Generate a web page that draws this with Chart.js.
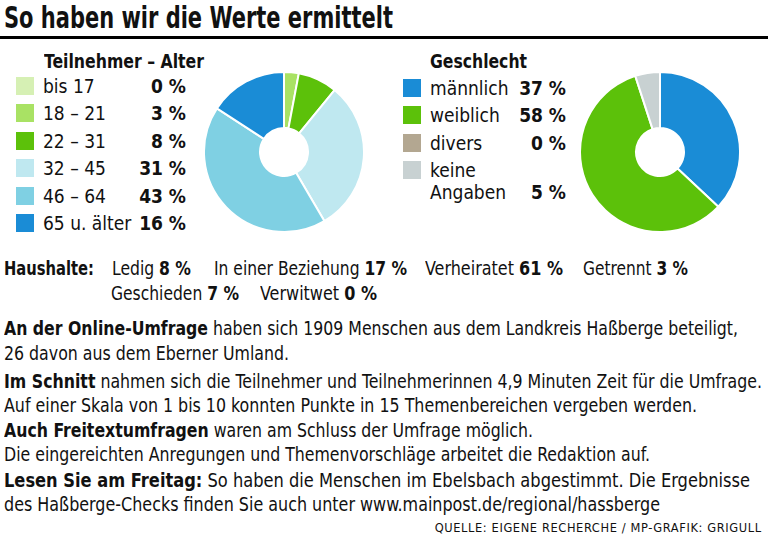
<!DOCTYPE html>
<html>
<head>
<meta charset="utf-8">
<script src="https://cdn.jsdelivr.net/npm/chart.js@4"></script>
<style>
  body { margin: 0; width: 768px; height: 541px; background: #fff; position: relative; overflow: hidden;
         font-family: "DejaVu Sans Condensed", "DejaVu Sans", sans-serif; font-stretch: condensed; color: #111; }
  .abs { position: absolute; white-space: nowrap; transform-origin: left center; }
  .title { left: 4px; top: 3px; font-size: 30px; line-height: 30px; font-weight: bold; }
  .rule { position: absolute; left: 0; top: 36px; width: 768px; height: 3px; background: #000; }
  .head { font-size: 19px; font-weight: bold; }
  .row { position: absolute; font-size: 19px; height: 22px; line-height: 22px; }
  .sw { position: absolute; width: 18px; height: 18px; }
  .pct { position: absolute; font-weight: bold; text-align: right; white-space: nowrap; }
  .txt { font-size: 19px; line-height: 24px; }
  .src { font-size: 12.5px; letter-spacing: 0.6px; transform-origin: right center; }
</style>
</head>
<body>
<div class="abs title" data-w="389">So haben wir die Werte ermittelt</div>
<div class="rule"></div>

<div class="abs head" style="left:44px; top:50px;" data-w="160">Teilnehmer – Alter</div>
<div id="ageLegend"></div>
<div style="position:absolute; left:203px; top:71px; width:162px; height:162px;"><canvas id="ageChart"></canvas></div>

<div class="abs head" style="left:430px; top:50px;" data-w="97">Geschlecht</div>
<div id="genderLegend"></div>
<div style="position:absolute; left:579px; top:71px; width:162px; height:162px;"><canvas id="genderChart"></canvas></div>

<div id="haushalte"></div>

<div class="abs txt" style="left:4px; top:316px;" data-w="734"><b>An der Online-Umfrage</b> haben sich 1909 Menschen aus dem Landkreis Haßberge beteiligt,</div>
<div class="abs txt" style="left:4px; top:341px;" data-w="285">26 davon aus dem Eberner Umland.</div>
<div class="abs txt" style="left:4px; top:369px;" data-w="758"><b>Im Schnitt</b> nahmen sich die Teilnehmer und Teilnehmerinnen 4,9 Minuten Zeit für die Umfrage.</div>
<div class="abs txt" style="left:4px; top:393px;" data-w="693">Auf einer Skala von 1 bis 10 konnten Punkte in 15 Themenbereichen vergeben werden.</div>
<div class="abs txt" style="left:4px; top:418px;" data-w="529"><b>Auch Freitextumfragen</b> waren am Schluss der Umfrage möglich.</div>
<div class="abs txt" style="left:4px; top:442px;" data-w="646">Die eingereichten Anregungen und Themenvorschläge arbeitet die Redaktion auf.</div>
<div class="abs txt" style="left:4px; top:468px;" data-w="746"><b>Lesen Sie am Freitag:</b> So haben die Menschen im Ebelsbach abgestimmt. Die Ergebnisse</div>
<div class="abs txt" style="left:4px; top:492px;" data-w="656">des Haßberge-Checks finden Sie auch unter www.mainpost.de/regional/hassberge</div>
<div class="abs src" style="right:6px; top:520px;" data-w="327">QUELLE: EIGENE RECHERCHE / MP-GRAFIK: GRIGULL</div>

<script>
// Altersgruppen
const ageLabels = ["bis 17", "18 – 21", "22 – 31", "32 – 45", "46 – 64", "65 u. älter"];
const ageValues = [0, 3, 8, 31, 43, 16];
const ageColors = ["#d6f0b4", "#a9e264", "#5cc10a", "#bfe8f0", "#7fd0e3", "#1a8cd6"];

// Geschlecht
const genderLabels = ["männlich", "weiblich", "divers", ["keine", "Angaben"]];
const genderValues = [37, 58, 0, 5];
const genderColors = ["#1a8cd6", "#5cc10a", "#b3a791", "#c8d1d2"];

// Haushalte
const houseLabels = ["Ledig", "In einer Beziehung", "Verheiratet", "Getrennt", "Geschieden", "Verwitwet"];
const houseValues = [8, 17, 61, 3, 7, 0];

// legend rows next to each doughnut
function buildLegend(id, labels, values, colors, x, pctRight, firstY) {
    const box = document.getElementById(id);
    labels.forEach((lab, i) => {
        const lines = Array.isArray(lab) ? lab : [lab];
        const yc = firstY + i * 27.4; // centre of the swatch
        const sw = document.createElement("div");
        sw.className = "sw";
        sw.style.left = x + "px";
        sw.style.top = (yc - 9) + "px";
        sw.style.background = colors[i];
        box.appendChild(sw);
        lines.forEach((line, j) => {
            const ty = lines.length > 1 ? yc - 11.5 + j * 22.5 + 11 : yc;
            const row = document.createElement("div");
            row.className = "row";
            row.style.left = (x + 27) + "px";
            row.style.top = (ty - 11) + "px";
            row.style.width = (pctRight - x - 27) + "px";
            row.innerHTML = '<span>' + line + '</span>';
            if (j === lines.length - 1) {
                row.innerHTML += '<span class="pct" style="right:0">' + values[i] + ' %</span>';
            }
            box.appendChild(row);
        });
    });
}
buildLegend("ageLegend", ageLabels, ageValues, ageColors, 16, 186, 86);
buildLegend("genderLegend", genderLabels, genderValues, genderColors, 403, 566, 88);

// Haushalte rows: [left, top, width]
const hh = document.getElementById("haushalte");
const hhPos = [[112, 256, 79], [214, 256, 193], [425, 256, 138], [583, 256, 105], [111, 281, 128], [260, 281, 117]];
const hhHead = document.createElement("div");
hhHead.className = "abs txt";
hhHead.style.left = "4px"; hhHead.style.top = "256px";
hhHead.dataset.w = 90;
hhHead.innerHTML = "<b>Haushalte:</b>";
hh.appendChild(hhHead);
houseLabels.forEach((lab, i) => {
    const d = document.createElement("div");
    d.className = "abs txt";
    d.style.left = hhPos[i][0] + "px";
    d.style.top = hhPos[i][1] + "px";
    d.dataset.w = hhPos[i][2];
    d.innerHTML = lab + " <b>" + houseValues[i] + " %</b>";
    hh.appendChild(d);
});

// squeeze text to the condensed widths of the original
document.querySelectorAll("[data-w]").forEach(el => {
    const w = el.getBoundingClientRect().width;
    el.style.transform = "scaleX(" + (parseFloat(el.dataset.w) / w) + ")";
});

function makeDoughnut(id, labels, values, colors) {
    const el = document.getElementById(id);
    el.width = 162; el.height = 162;
    return new Chart(el.getContext("2d"), {
        type: "doughnut",
        data: {
            labels: labels,
            datasets: [{
                data: values,
                backgroundColor: colors,
                borderColor: "#ffffff",
                borderWidth: 2,
            }],
        },
        options: {
            responsive: false,
            animation: false,
            cutout: "30%",
            layout: { padding: 0 },
            plugins: { legend: { display: false }, tooltip: { enabled: false } },
        },
    });
}
makeDoughnut("ageChart", ageLabels, ageValues, ageColors);
makeDoughnut("genderChart", genderLabels, genderValues, genderColors);
</script>
</body>
</html>
